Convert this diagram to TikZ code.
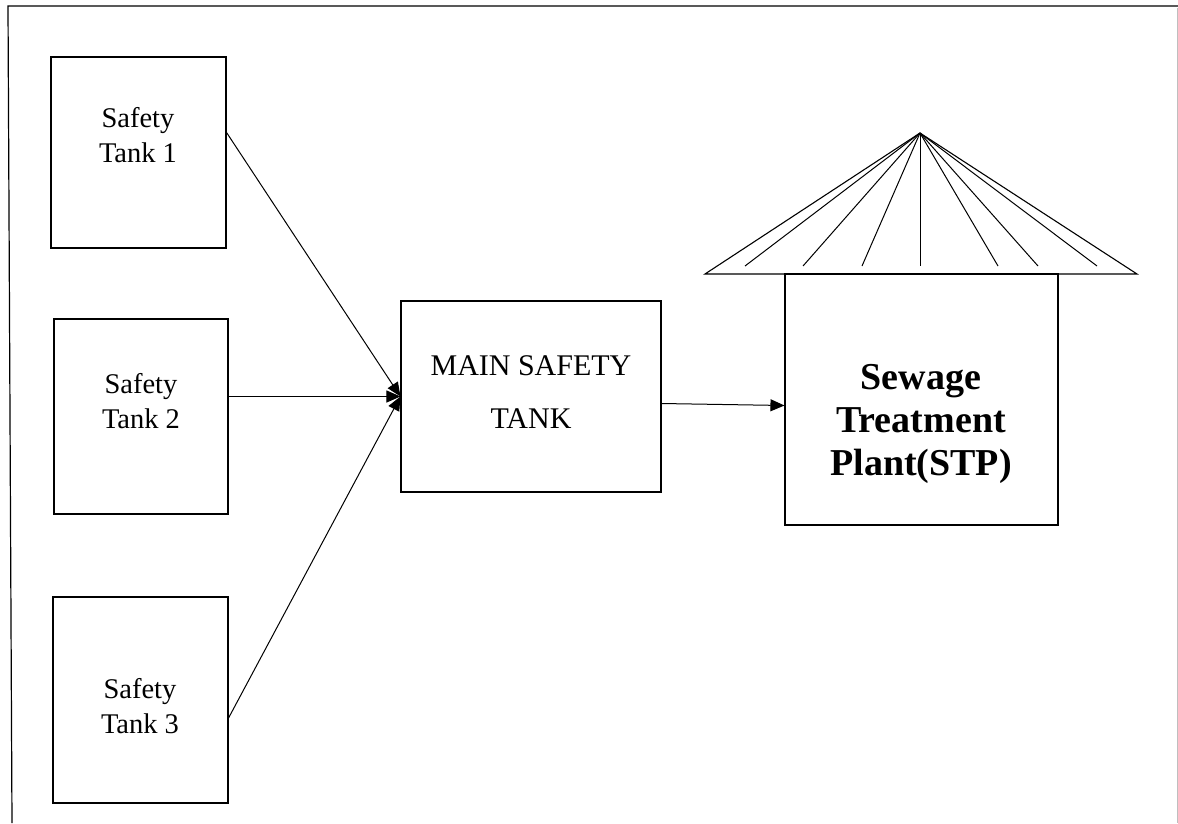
\documentclass[tikz,border=0pt]{standalone}
\usepackage{fontspec}
\setmainfont{Liberation Serif}
\usetikzlibrary{positioning,arrows.meta}

\begin{document}
\begin{tikzpicture}[
      x=1pt, y=-1pt,
      tankbox/.style={draw, line width=1.1pt, inner sep=0pt},
      tanklab/.style={font=\fontsize{28.5}{35}\selectfont, align=center},
      mainlab/.style={font=\fontsize{30}{53}\selectfont, align=center},
      stplab/.style={font=\bfseries\fontsize{38}{43}\selectfont, align=center},
      flow/.style={line width=1pt, -{Triangle[length=14pt,width=12pt]}}
    ]
      \useasboundingbox (0,0) rectangle (1178,823);
      \draw[line width=1.2pt] (12,823) -- (8,6) -- (1178,6);
      \draw[line width=1pt, black!25] (1177,8) -- (1177,823);

      \node[tankbox, minimum width=175pt, minimum height=191pt] (t1) at (138.5,152.5) {};
      \node[tankbox, minimum width=174pt, minimum height=195pt] (t2) at (141,416.5) {};
      \node[tankbox, minimum width=175pt, minimum height=206pt] (t3) at (140.5,700) {};
      \node[tankbox, minimum width=260pt, minimum height=191pt] (main) at (531,396.5) {};
      \node[tankbox, minimum width=273pt, minimum height=251pt] (stp) at (921.5,399.5) {};

      \node[tanklab] (t1lab) at (138,135) {Safety\\Tank 1};
      \node[tanklab] (t2lab) at (141,401) {Safety\\Tank 2};
      \node[tanklab] (t3lab) at (140,706) {Safety\\Tank 3};
      \node[mainlab] (mainlab) at (531,392) {MAIN SAFETY\\TANK};
      \node[stplab] (stplab) at (921,424) {Sewage\\Treatment\\Plant(STP)};

      \coordinate (apex) at (920,133);
      \draw[line width=1.1pt] (705,274) -- (apex) -- (1137,274) -- cycle;
      \foreach \x in {745,803,862,920,998,1038,1097} {
        \draw[line width=1pt] (apex) -- (\x,266);
      }

      \draw[flow] ([yshift=20pt]t1.east) -- (main.west);
      \draw[flow] (t2.east |- main.west) -- (main.west);
      \draw[flow] ([yshift=-18pt]t3.east) -- (main.west);
      \draw[flow] ([yshift=-7pt]main.east) -- ([yshift=-6pt]stp.west);
    \end{tikzpicture}
\end{document}
